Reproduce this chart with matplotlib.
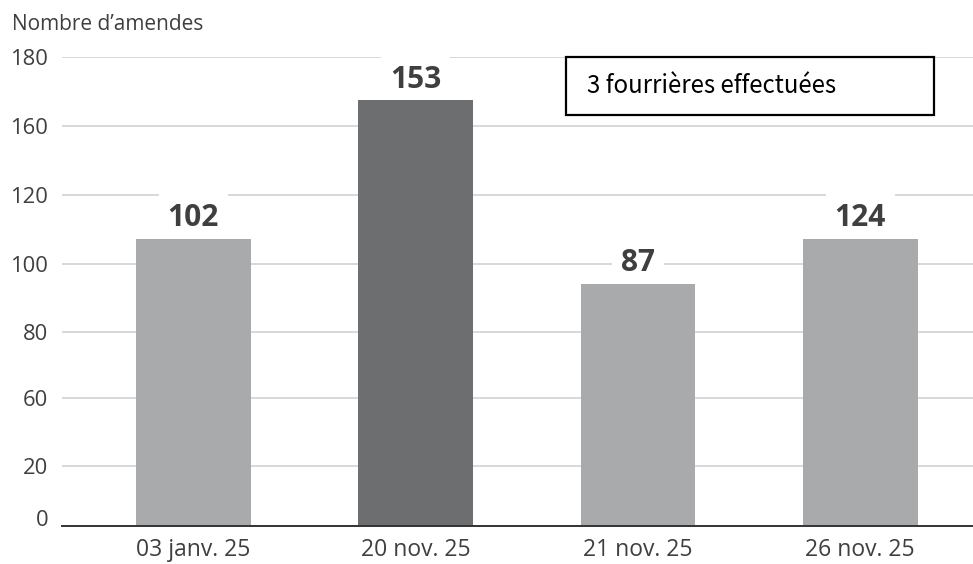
import matplotlib as mpl
mpl.use("Agg")
import matplotlib.pyplot as plt
import numpy as np
from matplotlib.patches import Rectangle
from matplotlib.ticker import NullLocator
from matplotlib.transforms import ScaledTranslation

plt.rcParams.update({
    "font.family": ["Open Sans", "DejaVu Sans"],
    "font.size": 15,
})

# data
dates = ["03 janv. 25", "20 nov. 25", "21 nov. 25", "26 nov. 25"]
bar_heights = [107.3, 167.4, 94.2, 107.3]      # where the bars reach on the axis
printed_values = ["102", "153", "87", "124"]   # numbers printed above the bars
highlight = [False, True, False, False]
y_ticks = [0, 20, 60, 80, 100, 120, 160, 180]

# the axis in the source is not linear: ticks sit at these pixel offsets
tick_px = [0, 60.3, 127.7, 193.7, 261.7, 331.0, 400.3, 469.3]


def fwd(v):
    return np.interp(v, y_ticks, tick_px)


def inv(p):
    return np.interp(p, tick_px, y_ticks)


light = "#a9aaac"
dark = "#6d6e70"
text_col = "#3f3f3f"

fig = plt.figure(figsize=(9.73, 5.64), dpi=100)
ax = fig.add_axes([62 / 973, 38 / 564, 911 / 973, 469.3 / 564])
ax.set_yscale("function", functions=(fwd, inv))

x = np.arange(len(dates))
colors = [dark if h else light for h in highlight]
bars = ax.bar(x, bar_heights, width=0.515, color=colors, zorder=2)

# labels go under the bars (zorder) so their white box only hides gridlines
for b, lab in zip(bars, printed_values):
    ax.annotate(lab, (b.get_x() + b.get_width() / 2, b.get_height()),
                xytext=(0, 4), textcoords="offset points",
                ha="center", va="bottom", fontsize=21.5, fontweight="bold",
                color=text_col, zorder=1.5,
                bbox=dict(boxstyle="square,pad=0.3", fc="white", ec="none"))

ax.set_xlim(-0.591, 3.507)
ax.set_ylim(0, 180)
ax.set_yticks(y_ticks)
ax.set_yticklabels([str(t) for t in y_ticks])
ax.yaxis.set_minor_locator(NullLocator())
ax.set_xticks(x)
ax.set_xticklabels(dates)

ax.grid(axis="y", color="#d6d6d6", linewidth=1.3, zorder=0)
ax.set_axisbelow(True)
for s in ["top", "right", "left"]:
    ax.spines[s].set_visible(False)
ax.spines["bottom"].set_color("#333333")
ax.spines["bottom"].set_linewidth(1.4)
ax.spines["bottom"].set_zorder(4)

ax.tick_params(axis="both", length=0, colors=text_col)
ax.tick_params(axis="y", pad=10, labelsize=15.8)
ax.tick_params(axis="x", pad=9, labelsize=16.5)

# the "0" label sits a bit above the baseline in the source
zero_lab = ax.get_yticklabels()[0]
zero_lab.set_transform(zero_lab.get_transform()
                       + ScaledTranslation(0, 8 / 100, fig.dpi_scale_trans))

fig.text(12.5 / 973, 1 - 30 / 564, "Nombre d’amendes", fontsize=15,
         color=text_col, ha="left", va="baseline")

# boxed note
ax.add_patch(Rectangle((0.553, 0.876), 0.4045, 0.124, transform=ax.transAxes,
                       fill=True, fc="white", ec="black", lw=1.6, zorder=5,
                       clip_on=False))
ax.text(0.576, 0.937, "3 fourrières effectuées", transform=ax.transAxes,
        ha="left", va="center", fontsize=17.3, color="black", zorder=6,
        family=["Noto Sans CJK JP", "DejaVu Sans"])

fig.savefig("out.png", dpi=100)
